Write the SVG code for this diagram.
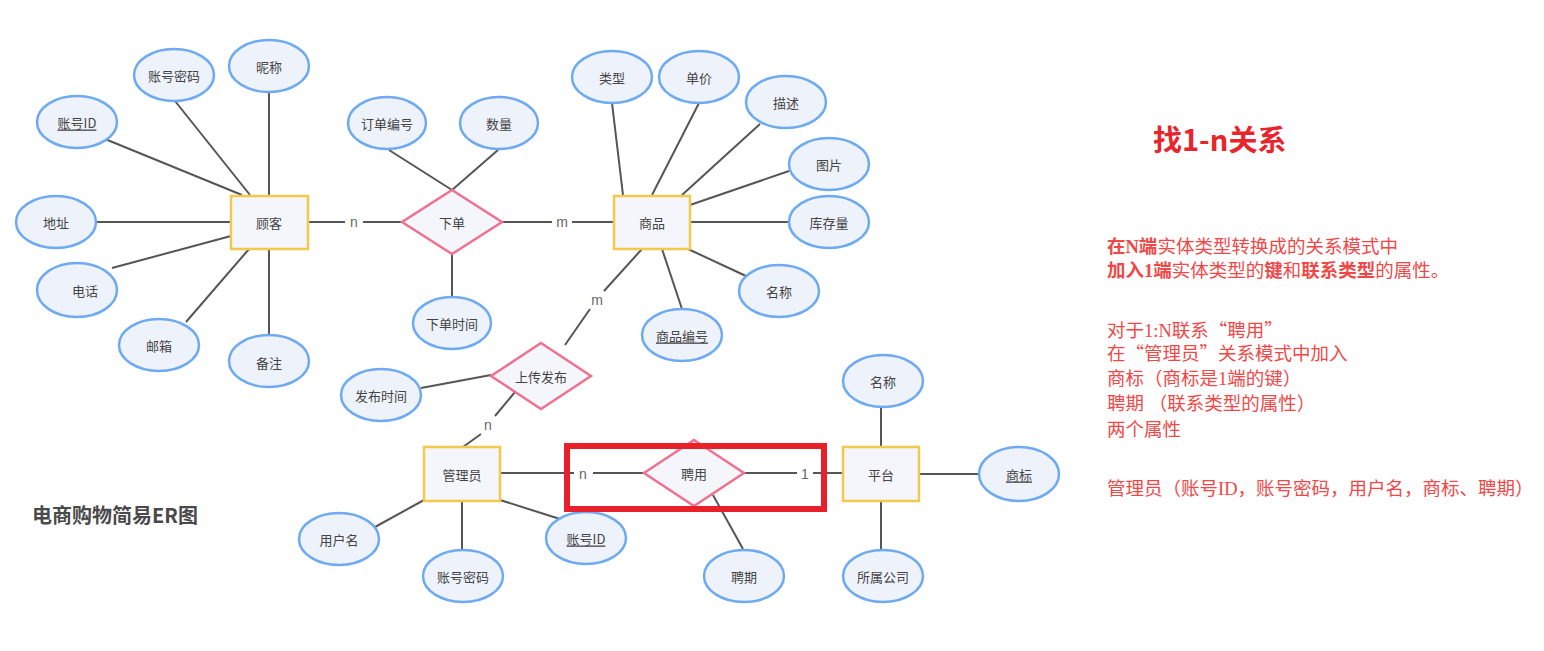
<svg xmlns="http://www.w3.org/2000/svg" width="1544" height="651" viewBox="0 0 1544 651">
<style>
.ent{fill:#f4f6fb;stroke:#f2c94c;stroke-width:2.5}
.rel{fill:#f4f6fb;stroke:#f0708f;stroke-width:2.5}
.att{fill:#eef3fb;stroke:#6eaaf2;stroke-width:2.5}
.lbl{font-family:"Noto Sans CJK SC","Noto Sans",sans-serif;font-size:13px;fill:#444;text-anchor:middle;dominant-baseline:central}
.key{text-decoration:underline}
.card{font-family:"Liberation Sans","Noto Sans",sans-serif;font-size:14px;fill:#666;text-anchor:middle;dominant-baseline:central}
.conn line{stroke:#555;stroke-width:2}
.note{font-family:"Liberation Serif","Noto Sans CJK SC",serif;font-size:18.5px;fill:#f04848}
.b{font-weight:bold}
.q{font-family:"Noto Sans CJK SC",sans-serif}
</style>
<rect width="1544" height="651" fill="#ffffff"/>
<g class="conn" id="connectors">
<line x1="105" y1="139" x2="242" y2="195"/>
<line x1="175" y1="101" x2="250" y2="195"/>
<line x1="269" y1="92" x2="269" y2="195"/>
<line x1="96" y1="222" x2="231" y2="222"/>
<line x1="112" y1="268" x2="231" y2="236"/>
<line x1="186" y1="322" x2="249" y2="249"/>
<line x1="269" y1="249" x2="269" y2="334"/>
<line x1="308" y1="222" x2="345" y2="222"/>
<line x1="363" y1="222" x2="402" y2="222"/>
<line x1="502" y1="222" x2="552" y2="222"/>
<line x1="572" y1="222" x2="614" y2="222"/>
<line x1="389" y1="150" x2="452" y2="190"/>
<line x1="498" y1="150" x2="452" y2="190"/>
<line x1="452" y1="254" x2="452" y2="297"/>
<line x1="612" y1="103" x2="623" y2="195"/>
<line x1="699" y1="103" x2="652" y2="195"/>
<line x1="760" y1="124" x2="682" y2="195"/>
<line x1="789" y1="171" x2="690" y2="205"/>
<line x1="690" y1="222" x2="789" y2="222"/>
<line x1="688" y1="249" x2="746" y2="276"/>
<line x1="662" y1="249" x2="682" y2="309"/>
<line x1="642" y1="249" x2="604" y2="291"/>
<line x1="590" y1="309" x2="565" y2="345"/>
<line x1="421" y1="388" x2="491" y2="375"/>
<line x1="515" y1="392" x2="495" y2="416"/>
<line x1="481" y1="434" x2="463" y2="447"/>
<line x1="375" y1="527" x2="424" y2="500"/>
<line x1="462" y1="501" x2="462" y2="549"/>
<line x1="500" y1="500" x2="560" y2="519"/>
<line x1="500" y1="473" x2="574" y2="473"/>
<line x1="593" y1="473" x2="644" y2="473"/>
<line x1="744" y1="473" x2="797" y2="473"/>
<line x1="813" y1="473" x2="843" y2="473"/>
<line x1="713" y1="495" x2="743" y2="549"/>
<line x1="881" y1="407" x2="881" y2="447"/>
<line x1="919" y1="474" x2="979" y2="474"/>
<line x1="881" y1="501" x2="881" y2="549"/>
</g>
<g id="cardinalities">
<text class="card" x="354" y="222">n</text>
<text class="card" x="562" y="222">m</text>
<text class="card" x="597" y="300">m</text>
<text class="card" x="488" y="425">n</text>
<text class="card" x="583" y="474">n</text>
<text class="card" x="805" y="474">1</text>
</g>
<g id="n-guke"><rect class="ent" x="231" y="196" width="77" height="53"/><text class="lbl" x="269" y="222">顾客</text></g>
<g id="n-shangpin"><rect class="ent" x="614" y="196" width="76" height="53"/><text class="lbl" x="652" y="222">商品</text></g>
<g id="n-guanliyuan"><rect class="ent" x="424" y="447" width="76" height="54"/><text class="lbl" x="462" y="474">管理员</text></g>
<g id="n-pingtai"><rect class="ent" x="843" y="447" width="76" height="54"/><text class="lbl" x="881" y="474">平台</text></g>
<g id="r-xiadan"><polygon class="rel" points="452,190 502,222 452,254 402,222"/><text class="lbl" x="452" y="222">下单</text></g>
<g id="r-shangchuan"><polygon class="rel" points="541,343 591,376 541,409 491,376"/><text class="lbl" x="541" y="376">上传发布</text></g>
<g id="r-pinyong"><polygon class="rel" points="694,440 744,473 694,506 644,473"/><text class="lbl" x="694" y="473">聘用</text></g>
<g id="a-zhanghaoid1"><ellipse class="att" cx="77" cy="122" rx="40" ry="26"/><text class="lbl key" x="77" y="122">账号ID</text></g>
<g id="a-mima1"><ellipse class="att" cx="174" cy="75" rx="40" ry="26"/><text class="lbl" x="174" y="75">账号密码</text></g>
<g id="a-nicheng"><ellipse class="att" cx="269" cy="66" rx="40" ry="26"/><text class="lbl" x="269" y="66">昵称</text></g>
<g id="a-dizhi"><ellipse class="att" cx="56" cy="222" rx="40" ry="26"/><text class="lbl" x="56" y="222">地址</text></g>
<g id="a-dianhua"><ellipse class="att" cx="77" cy="290" rx="40" ry="27"/><text class="lbl" x="85" y="290">电话</text></g>
<g id="a-youxiang"><ellipse class="att" cx="159" cy="345" rx="40" ry="26"/><text class="lbl" x="159" y="345">邮箱</text></g>
<g id="a-beizhu"><ellipse class="att" cx="269" cy="361" rx="40" ry="26"/><text class="lbl" x="269" y="362">备注</text></g>
<g id="a-dingdanbianhao"><ellipse class="att" cx="387" cy="123" rx="39" ry="26"/><text class="lbl" x="387" y="123">订单编号</text></g>
<g id="a-shuliang"><ellipse class="att" cx="499" cy="123" rx="39" ry="26"/><text class="lbl" x="499" y="123">数量</text></g>
<g id="a-xiadanshijian"><ellipse class="att" cx="452" cy="323" rx="39" ry="26"/><text class="lbl" x="452" y="323">下单时间</text></g>
<g id="a-leixing"><ellipse class="att" cx="612" cy="77" rx="40" ry="26"/><text class="lbl" x="612" y="77">类型</text></g>
<g id="a-danjia"><ellipse class="att" cx="699" cy="77" rx="40" ry="26"/><text class="lbl" x="699" y="77">单价</text></g>
<g id="a-miaoshu"><ellipse class="att" cx="786" cy="102" rx="40" ry="26"/><text class="lbl" x="786" y="102">描述</text></g>
<g id="a-tupian"><ellipse class="att" cx="829" cy="164" rx="40" ry="26"/><text class="lbl" x="829" y="164">图片</text></g>
<g id="a-kucunliang"><ellipse class="att" cx="829" cy="222" rx="40" ry="26"/><text class="lbl" x="829" y="222">库存量</text></g>
<g id="a-mingcheng1"><ellipse class="att" cx="779" cy="291" rx="40" ry="26"/><text class="lbl" x="779" y="291">名称</text></g>
<g id="a-shangpinbianhao"><ellipse class="att" cx="682" cy="335" rx="40" ry="26"/><text class="lbl key" x="682" y="335">商品编号</text></g>
<g id="a-fabushijian"><ellipse class="att" cx="381" cy="395" rx="40" ry="26"/><text class="lbl" x="381" y="395">发布时间</text></g>
<g id="a-yonghuming"><ellipse class="att" cx="339" cy="539" rx="40" ry="26"/><text class="lbl" x="339" y="539">用户名</text></g>
<g id="a-mima2"><ellipse class="att" cx="463" cy="576" rx="40" ry="26"/><text class="lbl" x="463" y="576">账号密码</text></g>
<g id="a-zhanghaoid2"><ellipse class="att" cx="586" cy="538" rx="40" ry="26"/><text class="lbl key" x="586" y="538">账号ID</text></g>
<g id="a-pinqi"><ellipse class="att" cx="744" cy="576" rx="40" ry="26"/><text class="lbl" x="744" y="576">聘期</text></g>
<g id="a-mingcheng2"><ellipse class="att" cx="883" cy="381" rx="40" ry="26"/><text class="lbl" x="883" y="381">名称</text></g>
<g id="a-shangbiao"><ellipse class="att" cx="1019" cy="474" rx="40" ry="27"/><text class="lbl key" x="1019" y="474">商标</text></g>
<g id="a-suoshugongsi"><ellipse class="att" cx="883" cy="576" rx="40" ry="26"/><text class="lbl" x="883" y="576">所属公司</text></g>
<rect x="567" y="446" width="257" height="63" fill="none" stroke="#e8202a" stroke-width="6"/>
<text x="32" y="523" font-family="'Noto Sans CJK SC','Noto Sans',sans-serif" font-size="20" font-weight="bold" fill="#4a4a4a">电商购物简易ER图</text>
<text x="1153" y="151" font-family="'Noto Sans CJK SC','Noto Sans',sans-serif" font-size="29" font-weight="bold" fill="#e8242c">找1-n关系</text>
<text class="note" x="1107" y="253"><tspan class="b">在N端</tspan>实体类型转换成的关系模式中</text>
<text class="note" x="1107" y="277"><tspan class="b">加入1端</tspan>实体类型的<tspan class="b">键</tspan>和<tspan class="b">联系类型</tspan>的属性。</text>
<text class="note" x="1107" y="337">对于1:N联系<tspan class="q">“聘用”</tspan></text>
<text class="note" x="1107" y="360">在<tspan class="q">“管理员”</tspan>关系模式中加入</text>
<text class="note" x="1107" y="385">商标（商标是1端的键）</text>
<text class="note" x="1107" y="410">聘期 （联系类型的属性）</text>
<text class="note" x="1107" y="436">两个属性</text>
<text class="note" x="1107" y="495">管理员（账号ID，账号密码，用户名，商标、聘期）</text>
</svg>
